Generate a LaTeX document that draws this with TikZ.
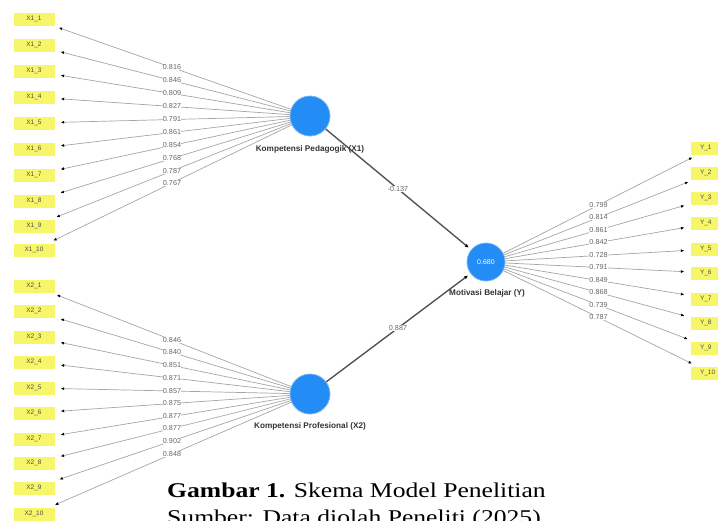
\documentclass[tikz,border=0pt]{standalone}
\usepackage{fontspec}
\setmainfont{Liberation Serif}
\setsansfont{Liberation Sans}
\usetikzlibrary{arrows.meta,calc}
\definecolor{plsblue}{RGB}{36,140,245}
\definecolor{plsyellow}{RGB}{246,246,104}
\definecolor{indline}{RGB}{165,165,165}
\definecolor{pathline}{RGB}{85,85,85}
\begin{document}
\begin{tikzpicture}[x=1pt,y=-1pt,
  indbox/.style={fill=plsyellow, minimum width=41pt, minimum height=13pt, inner sep=0pt,
    font=\sffamily\fontsize{6.5}{7}\selectfont, text=black!70},
  lv/.style={circle, fill=plsblue, draw=plsblue!55, line width=0.6pt, minimum size=40pt, inner sep=0pt},
  lvlabel/.style={font=\sffamily\bfseries\fontsize{8.2}{9}\selectfont, text=black!80},
  load/.style={draw=indline, line width=0.7pt, -{Latex[length=3.5pt,width=3pt,color=black]}, shorten >=6pt},
  strpath/.style={draw=pathline, line width=1.4pt, -{Latex[length=4pt,width=3.5pt,color=black]}, shorten >=3pt},
  val/.style={fill=white, inner sep=0.3pt, font=\sffamily\fontsize{7.2}{8}\selectfont, text=black!60}
]
\useasboundingbox (0,0) rectangle (718,520);
\clip (0,0) rectangle (718,520);

% latent variables
\node[lv] (X1) at (310,116) {};
\node[lv] (X2) at (310,394) {};
\node[lv, minimum size=38pt] (Y) at (486,262) {};

% indicator boxes
\foreach \i/\yy in {1/19,2/45,3/71,4/97,5/123,6/149,7/175,8/201,9/226,10/250}
  \node[indbox] (x1i\i) at (34,\yy) {X1\_\i};
\foreach \i/\yy in {1/286,2/311,3/337,4/362,5/388,6/413,7/439,8/463,9/488,10/514}
  \node[indbox] (x2i\i) at (34,\yy) {X2\_\i};
\foreach \i/\yy in {1/148,2/173,3/198,4/223,5/249,6/273,7/299,8/323,9/348,10/373}
  \node[indbox, text width=36pt, align=left] (yi\i) at (711,\yy) {\hspace*{7pt}Y\_\i};

% loading lines
\foreach \i in {1,...,10} {
  \draw[load] (X1) -- (x1i\i);
  \draw[load] (X2) -- (x2i\i);
  \draw[load] (Y) -- (yi\i);
}

% structural paths
\draw[strpath] (X1) -- (Y);
\draw[strpath] (X2) -- (Y);

% redraw circles on top
\node[lv] at (X1) {};
\node[lv] at (X2) {};
\node[lv, minimum size=38pt, text=white, font=\sffamily\fontsize{7}{8}\selectfont] at (Y) {0.680};

% loading values
\foreach \i/\v in {1/0.816,2/0.846,3/0.809,4/0.827,5/0.791,6/0.861,7/0.854,8/0.768,9/0.787,10/0.767}
  \path (X1.center) -- (x1i\i.center) node[midway,val] {\v};
\foreach \i/\v in {1/0.846,2/0.840,3/0.851,4/0.871,5/0.857,6/0.875,7/0.877,8/0.877,9/0.902,10/0.848}
  \path (X2.center) -- (x2i\i.center) node[midway,val] {\v};
\foreach \i/\v in {1/0.799,2/0.814,3/0.861,4/0.842,5/0.728,6/0.791,7/0.849,8/0.868,9/0.739,10/0.787}
  \path (Y.center) -- (yi\i.center) node[midway,val] {\v};

% path coefficients
\path (X1.center) -- (Y.center) node[midway,val] {-0.137};
\path (X2.center) -- (Y.center) node[midway,val] {0.887};

% latent labels
\node[lvlabel] (lx1) at (310,149) {Kompetensi Pedagogik (X1)};
\node[lvlabel] (lx2) at (310,426) {Kompetensi Profesional (X2)};
\node[lvlabel] (ly) at (487,293) {Motivasi Belajar (Y)};

% caption
\node[anchor=base west, inner sep=0pt, font=\fontsize{21}{24}\selectfont] (cap1) at (167,497)
  {\scalebox{1.22}[1]{\textbf{Gambar 1.} Skema Model Penelitian}};
\node[anchor=base west, inner sep=0pt, font=\fontsize{21}{24}\selectfont] (cap2) at (167,524)
  {\scalebox{1.22}[1]{Sumber: Data diolah Peneliti (2025)}};
\end{tikzpicture}
\end{document}
